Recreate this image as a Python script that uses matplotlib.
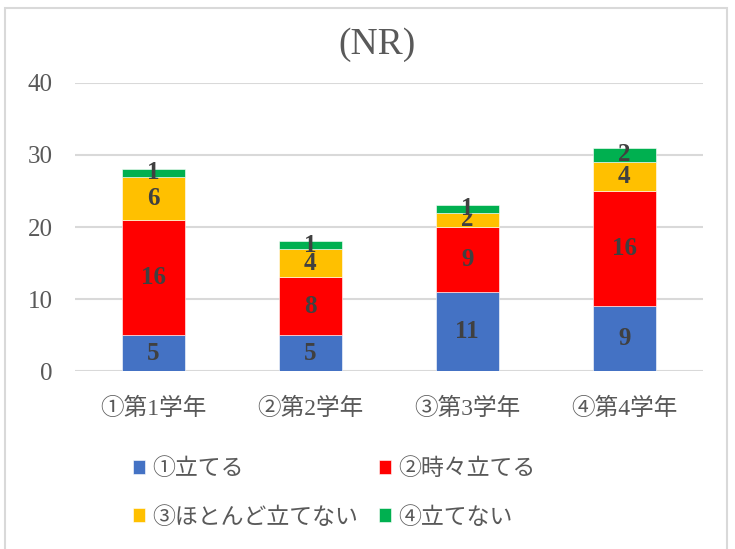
import numpy as np
import matplotlib
matplotlib.use('Agg')
import matplotlib.pyplot as plt
from matplotlib.patches import Rectangle

plt.rcParams['font.family'] = ['Liberation Serif', 'Noto Sans CJK JP', 'DejaVu Sans']

# データ
categories = ['①第1学年', '②第2学年', '③第3学年', '④第4学年']
series_names = ['①立てる', '②時々立てる', '③ほとんど立てない', '④立てない']
tateru = [5, 5, 11, 9]
tokidoki = [16, 8, 9, 16]
hotondo = [6, 4, 2, 4]
tatenai = [1, 1, 1, 2]
colors = ['#4472C4', '#FF0000', '#FFC000', '#00B050']

values = [tateru, tokidoki, hotondo, tatenai]
gray = '#595959'

fig = plt.figure(figsize=(7.35, 5.49), dpi=100)
ax = fig.add_axes([0.102, 0.324, 0.854, 0.525])

x = np.arange(len(categories))
bottom = np.zeros(len(categories))
handles = []
for vals, name, col in zip(values, series_names, colors):
    bars = ax.bar(x, vals, 0.4, bottom=bottom, color=col, label=name,
                  edgecolor='white', linewidth=0.4, zorder=3)
    ax.bar_label(bars, label_type='center', fontsize=18, fontweight='bold',
                 color='#404040')
    handles.append(bars)
    bottom += np.array(vals)

ax.set_ylim(0, 40)
ax.set_xlim(-0.5, 3.5)
ax.set_yticks([0, 10, 20, 30, 40])
ax.yaxis.grid(True, color='#d9d9d9', linewidth=1.5, zorder=0)
ax.set_axisbelow(True)
for s in ax.spines.values():
    s.set_visible(False)
ax.tick_params(length=0)
ax.tick_params(axis='y', labelsize=18, labelcolor=gray, pad=16)
ax.tick_params(axis='x', labelsize=17, labelcolor=gray, pad=19)
ax.set_xticks(x)
ax.set_xticklabels(categories)

fig.text(0.513, 0.918, '(NR)', fontsize=27, color=gray, ha='center', va='center')

order = [0, 2, 1, 3]
fig.legend([handles[i] for i in order], [series_names[i] for i in order],
           ncol=2, loc='center left', bbox_to_anchor=(0.165, 0.101),
           frameon=False, fontsize=16.5, labelcolor=gray,
           handlelength=0.55, handleheight=0.55, handletextpad=0.3,
           columnspacing=0.9, labelspacing=1.15, borderpad=0)

# グラフエリアの枠
fig.patches.append(Rectangle((5 / 735, -0.1), 722 / 735, 1.1 - 8 / 549,
                             transform=fig.transFigure, fill=False,
                             edgecolor='#d9d9d9', linewidth=1.5))

fig.savefig('out.png', dpi=100)
